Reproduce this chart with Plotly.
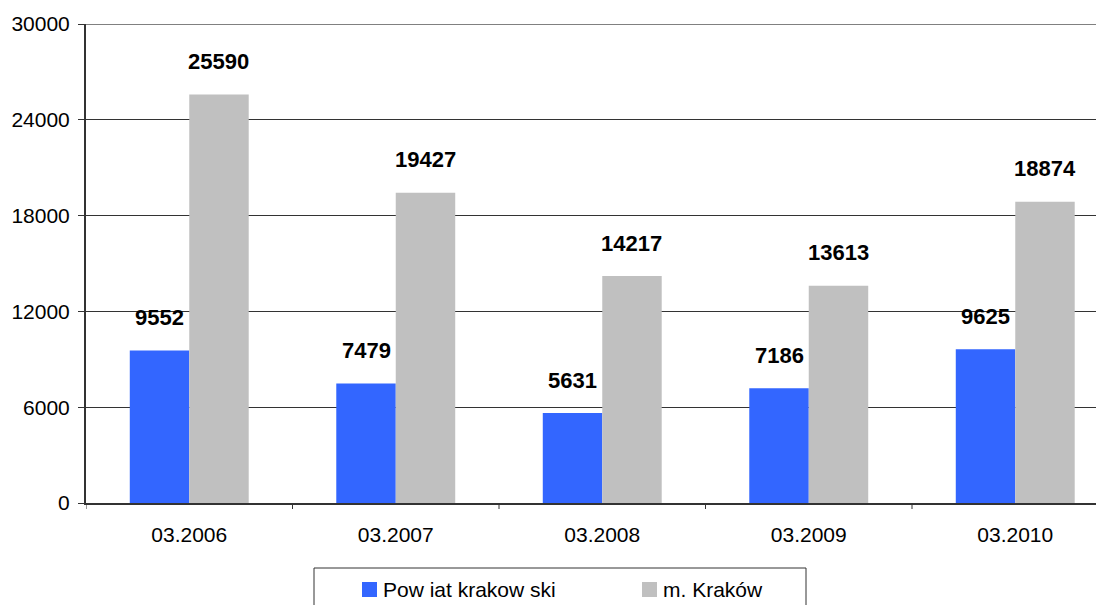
import plotly.graph_objects as go

categories = ["03.2006", "03.2007", "03.2008", "03.2009", "03.2010"]
powiat = [9552, 7479, 5631, 7186, 9625]
krakow = [25590, 19427, 14217, 13613, 18874]
series_names = ["Pow iat krakow ski", "m. Kraków"]
colors = ["#3366FF", "#C0C0C0"]
y_ticks = [0, 6000, 12000, 18000, 24000, 30000]

OFF = 8  # page body margin
W, H = 1104 - OFF, 605 - OFF
L, T = 86 - OFF, 24 - OFF
BOTTOM = 503 - OFF
B = H - BOTTOM
PW, PH = W - L, H - T - B
FONT = "Liberation Sans, Arial, sans-serif"


def px(xs):
    return (xs - OFF - L) / PW


def py(ys):
    return (BOTTOM - (ys - OFF)) / PH


fig = go.Figure()
fig.add_trace(go.Bar(x=list(range(len(categories))), y=powiat, name=series_names[0],
                     marker=dict(color=colors[0], line=dict(width=0)), offset=-0.288, width=0.288,
                     showlegend=False))
fig.add_trace(go.Bar(x=list(range(len(categories))), y=krakow, name=series_names[1],
                     marker=dict(color=colors[1], line=dict(width=0)), offset=0.0, width=0.288,
                     showlegend=False))

for i in range(len(categories)):
    for vals, off in ((powiat, -0.144), (krakow, 0.144)):
        fig.add_annotation(x=i + off, y=vals[i], text=f"<b>{vals[i]}</b>", showarrow=False,
                           yshift=33, yanchor="middle", xanchor="center",
                           font=dict(family=FONT, size=22, color="#000000"))

# top border line of plot area
fig.add_shape(type="line", xref="paper", yref="y", x0=0, x1=1, y0=30000, y1=30000,
              line=dict(color="#808080", width=2))

cat_w = 206.5
xmax = -0.5 + PW / cat_w

# category boundary ticks on x axis
for b in [i - 0.5 for i in range(len(categories) + 1)]:
    if b <= xmax:
        fig.add_shape(type="line", xref="x", yref="paper", x0=b, x1=b, y0=0, y1=py(503 + 6),
                      line=dict(color="#333333", width=1))

# legend box (drawn manually, cut off at bottom like reference)
fig.add_shape(type="rect", xref="paper", yref="paper", x0=px(314), x1=px(806), y0=py(568), y1=py(640),
              line=dict(color="#333333", width=1), fillcolor="white")
legend_sq_x = [362, 642]
for name, col, sx in zip(series_names, colors, legend_sq_x):
    fig.add_shape(type="rect", xref="paper", yref="paper", x0=px(sx), x1=px(sx + 15),
                  y0=py(582), y1=py(597), line=dict(width=0), fillcolor=col)
    fig.add_annotation(xref="paper", yref="paper", x=px(sx + 19), y=py(589), text=name,
                       showarrow=False, xanchor="left", yanchor="middle",
                       font=dict(family=FONT, size=21, color="#000000"))

fig.update_layout(
    width=W, height=H,
    margin=dict(l=L, r=0, t=T, b=B, autoexpand=False),
    plot_bgcolor="white", paper_bgcolor="white",
    barmode="overlay",
    showlegend=False,
    font=dict(family=FONT, size=21, color="#000000"),
    xaxis=dict(range=[-0.5, xmax], tickmode="array", tickvals=list(range(len(categories))),
               ticktext=categories, showgrid=False, showline=True, linecolor="#333333", linewidth=2,
               ticks="", zeroline=False, ticklabelstandoff=12, automargin=False,
               tickfont=dict(family=FONT, size=21)),
    yaxis=dict(range=[0, 30000], tickvals=y_ticks, ticktext=[str(v) for v in y_ticks],
               showgrid=True, gridcolor="#333333", gridwidth=1, showline=True,
               linecolor="#333333", linewidth=2, ticks="outside", ticklen=6, tickcolor="#333333",
               zeroline=False, ticklabelstandoff=4, automargin=False,
               tickfont=dict(family=FONT, size=21)),
)

fig.write_html("out.html")
